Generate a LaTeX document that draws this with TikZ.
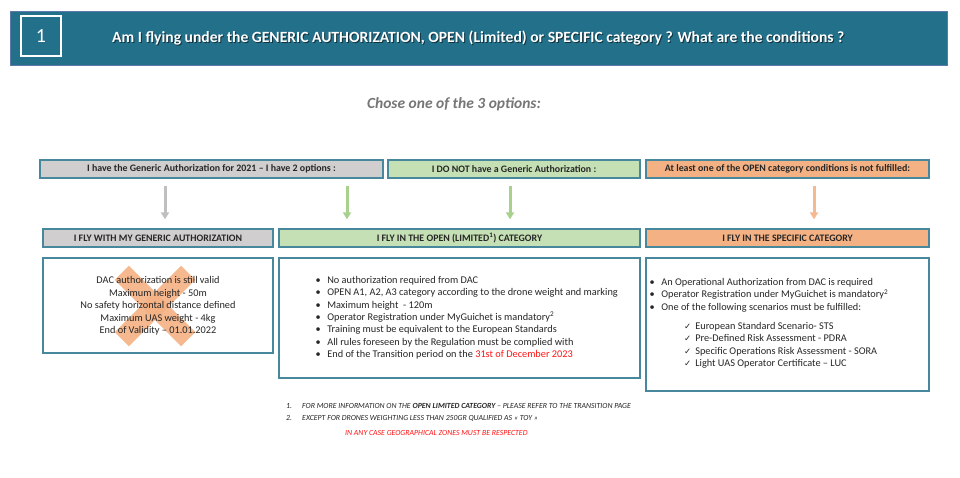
\documentclass[tikz,border=0pt]{standalone}
\usepackage{fontspec}
\setmainfont{Carlito}
\newfontfamily\symfont{DejaVu Sans}
\usetikzlibrary{arrows.meta,calc}
\definecolor{bandfill}{RGB}{35,112,138}
\definecolor{bandline}{RGB}{95,120,170}
\definecolor{boxline}{RGB}{72,136,156}
\definecolor{grayfill}{RGB}{208,206,206}
\definecolor{greenfill}{RGB}{197,224,180}
\definecolor{orangefill}{RGB}{244,177,131}
\definecolor{grayarrow}{RGB}{191,191,191}
\definecolor{greenarrow}{RGB}{169,209,142}
\definecolor{orangearrow}{RGB}{244,185,145}
\definecolor{bodytext}{RGB}{38,38,38}
\definecolor{chosegray}{RGB}{118,118,118}
\definecolor{redtext}{RGB}{255,20,20}
\tikzset{
  hdrbox/.style={draw=boxline, line width=1.3pt, minimum height=18pt, inner sep=0pt,
    font=\fontsize{9.9}{11}\selectfont\bfseries, text=bodytext},
  contentbox/.style={draw=boxline, line width=1.3pt, fill=white, inner sep=0pt},
  flowarrow/.style={line width=3pt, -{Triangle[width=8pt,length=7pt]}},
  bodyfont/.style={font=\fontsize{10.3}{12.4}\selectfont, text=bodytext, inner sep=0pt},
  notefont/.style={font=\fontsize{7.8}{12}\selectfont\itshape, text=bodytext, inner sep=0pt, anchor=west}
}
\begin{document}
\begin{tikzpicture}[x=1pt,y=-1pt]
\useasboundingbox[fill=white] (0,0) rectangle (960,477);

% header band
\node[draw=bandline, line width=0.8pt, fill=bandfill, minimum width=937pt, minimum height=54pt, inner sep=0pt] (band) at (478.5,38) {};
\node[draw=white, line width=1.2pt, minimum width=40pt, minimum height=40pt, inner sep=0pt,
  font=\fontsize{20}{22}\selectfont, text=white] (num) at (41,36) {1};
\node[anchor=west, inner sep=0pt, font=\fontsize{15.6}{17}\selectfont\bfseries, text=black, opacity=0.55] (titleshadow) at (113,39)
  {Am I flying under the GENERIC AUTHORIZATION, OPEN (Limited) or SPECIFIC category ? What are the conditions ?};
\node[anchor=west, inner sep=0pt, font=\fontsize{15.6}{17}\selectfont\bfseries, text=white] (title) at (112,38)
  {Am I flying under the GENERIC AUTHORIZATION, OPEN (Limited) or SPECIFIC category ? What are the conditions ?};

\node[inner sep=0pt, font=\fontsize{15.5}{17}\selectfont\bfseries\itshape, text=chosegray] (chose) at (454,104) {Chose one of the 3 options:};

% top row
\node[hdrbox, fill=grayfill, minimum width=343pt] (gtop) at (211.5,169) {I have the Generic Authorization for 2021 – I have 2 options :};
\node[hdrbox, fill=greenfill, minimum width=252pt] (ntop) at (514,169) {I DO NOT have a Generic Authorization :};
\node[hdrbox, fill=orangefill, minimum width=283pt] (otop) at (787.5,169) {At least one of the OPEN category conditions is not fulfilled:};

% second row
\node[hdrbox, fill=grayfill, minimum width=230pt] (gfly) at (158,238) {I FLY WITH MY GENERIC AUTHORIZATION};
\node[hdrbox, fill=greenfill, minimum width=361pt] (ofly) at (459.5,238) {I FLY IN THE OPEN (LIMITED\textsuperscript{1}) CATEGORY};
\node[hdrbox, fill=orangefill, minimum width=283pt] (sfly) at (787.5,238) {I FLY IN THE SPECIFIC CATEGORY};

% arrows
\coordinate (xa) at (165,200);
\coordinate (xb) at (347,200);
\coordinate (xc) at (510,200);
\coordinate (xd) at (814,200);
\draw[flowarrow, grayarrow] ($(gtop.south -| xa)+(0,7)$) -- ($(gfly.north -| xa)+(0,-9)$);
\draw[flowarrow, greenarrow] ($(gtop.south -| xb)+(0,7)$) -- ($(ofly.north -| xb)+(0,-9)$);
\draw[flowarrow, greenarrow] ($(ntop.south -| xc)+(0,7)$) -- ($(ofly.north -| xc)+(0,-9)$);
\draw[flowarrow, orangearrow] ($(otop.south -| xd)+(0,7)$) -- ($(sfly.north -| xd)+(0,-9)$);

% content boxes
\node[contentbox, minimum width=230pt, minimum height=95pt] (gbox) at (158,305.5) {};
\node[contentbox, minimum width=361pt, minimum height=120pt] (obox) at (459.5,318) {};
\node[contentbox, minimum width=283pt, minimum height=133pt] (sbox) at (787.5,324.5) {};

% orange X
\begin{scope}[shift={(155,306)}, rotate=45]
  \fill[orangefill, opacity=0.9] (-47,-10) rectangle (47,10);
  \fill[orangefill, opacity=0.9] (-10,-47) rectangle (10,47);
\end{scope}

\node[bodyfont, align=center] (gtext) at (158,306) {DAC authorization is still valid\\
Maximum height - 50m\\
No safety horizontal distance defined\\
Maximum UAS weight - 4kg\\
End of Validity – 01.01.2022};

\node[bodyfont, anchor=north west] (otext) at (315.5,274.5) {%
\begin{tabular}{@{}l@{\hspace{6.5pt}}l@{}}
\textbullet & No authorization required from DAC\\
\textbullet & OPEN A1, A2, A3 category according to the drone weight and marking\\
\textbullet & Maximum height \ - 120m\\
\textbullet & Operator Registration under MyGuichet is mandatory\textsuperscript{2}\\
\textbullet & Training must be equivalent to the European Standards\\
\textbullet & All rules foreseen by the Regulation must be complied with\\
\textbullet & End of the Transition period on the \textcolor{redtext}{31st of December 2023}
\end{tabular}};

\node[bodyfont, anchor=north west] (stext) at (649.5,276.5) {%
\begin{tabular}{@{}l@{\hspace{6.5pt}}l@{}}
\textbullet & An Operational Authorization from DAC is required\\
\textbullet & Operator Registration under MyGuichet is mandatory\textsuperscript{2}\\
\textbullet & One of the following scenarios must be fulfilled:
\end{tabular}};

\node[bodyfont, anchor=north west] (ctext) at (684,320.5) {%
\begin{tabular}{@{}l@{\hspace{4pt}}l@{}}
{\symfont\fontsize{8.5}{9}\selectfont ✓} & European Standard Scenario- STS\\
{\symfont\fontsize{8.5}{9}\selectfont ✓} & Pre-Defined Risk Assessment - PDRA\\
{\symfont\fontsize{8.5}{9}\selectfont ✓} & Specific Operations Risk Assessment - SORA\\
{\symfont\fontsize{8.5}{9}\selectfont ✓} & Light UAS Operator Certificate – LUC
\end{tabular}};

% footnotes
\node[notefont] (n1) at (286,406) {1.};
\node[notefont] (n1t) at (302,406) {FOR MORE INFORMATION ON THE \textbf{OPEN LIMITED CATEGORY} – PLEASE REFER TO THE TRANSITION PAGE};
\node[notefont] (n2) at (286,418) {2.};
\node[notefont] (n2t) at (302,418) {EXCEPT FOR DRONES WEIGHTING LESS THAN 250GR QUALIFIED AS « TOY »};
\node[notefont, text=redtext] (geo) at (345,433) {IN ANY CASE GEOGRAPHICAL ZONES MUST BE RESPECTED};
\end{tikzpicture}
\end{document}
